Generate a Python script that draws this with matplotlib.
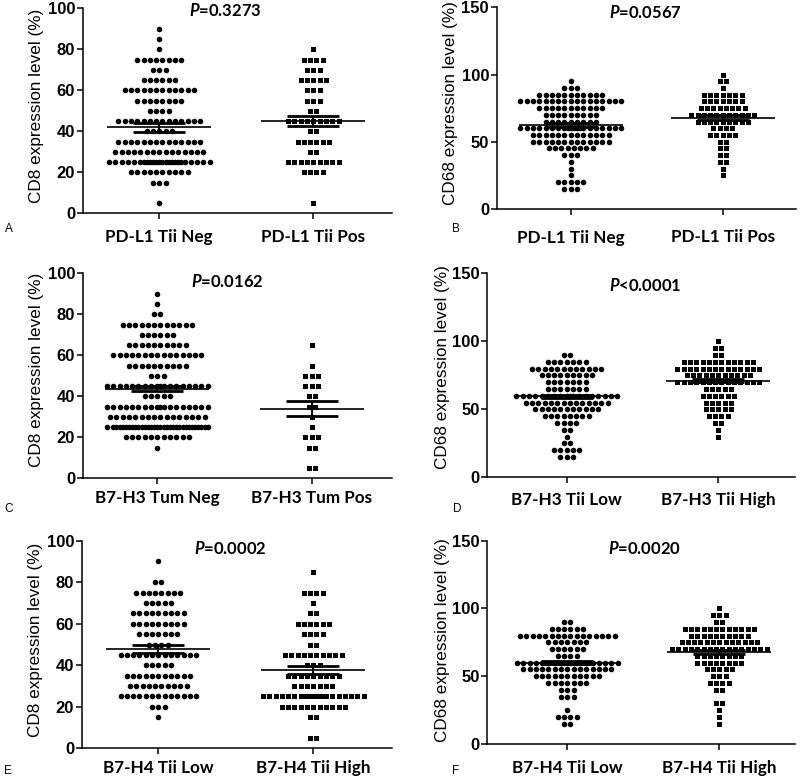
import matplotlib
matplotlib.use('Agg')
import matplotlib.pyplot as plt
import numpy as np

plt.rcParams['mathtext.fontset'] = 'custom'
plt.rcParams['mathtext.it'] = 'Lato:italic:bold'
plt.rcParams['mathtext.rm'] = 'Lato:bold'

# ---------------- data (value levels and number of cases at each level) -------------
A_neg_vals = [90, 85, 80, 75, 70, 65, 60, 55, 50, 45, 40, 35, 30, 25, 20, 15, 5]
A_neg_cnts = [1, 1, 1, 8, 3, 6, 12, 8, 4, 14, 5, 14, 15, 24, 10, 3, 1]
A_pos_vals = [80, 75, 70, 65, 60, 55, 50, 45, 40, 35, 30, 25, 20, 5]
A_pos_cnts = [1, 4, 3, 5, 3, 3, 2, 9, 2, 6, 2, 9, 4, 1]

B_neg_vals = [95, 90, 85, 80, 75, 70, 65, 60, 55, 50, 45, 40, 35, 30, 25, 20, 15]
B_neg_cnts = [1, 3, 11, 17, 11, 9, 9, 20, 13, 13, 8, 3, 1, 1, 1, 5, 3]
B_pos_vals = [100, 95, 90, 85, 80, 75, 70, 65, 60, 55, 50, 45, 40, 35, 30, 25]
B_pos_cnts = [1, 2, 1, 7, 7, 8, 11, 9, 4, 5, 2, 2, 2, 2, 1, 1]

C_neg_vals = [90, 85, 80, 75, 70, 65, 60, 55, 50, 45, 40, 35, 30, 25, 20, 15]
C_neg_cnts = [1, 1, 2, 12, 6, 10, 15, 10, 3, 18, 5, 18, 16, 32, 11, 1]
C_pos_vals = [65, 55, 50, 45, 40, 35, 30, 25, 20, 15, 5]
C_pos_cnts = [1, 1, 3, 3, 2, 2, 1, 1, 3, 2, 2]

D_low_vals = [90, 85, 80, 75, 70, 65, 60, 55, 50, 45, 40, 35, 30, 25, 20, 15]
D_low_cnts = [2, 7, 12, 9, 7, 7, 18, 14, 11, 8, 4, 2, 1, 2, 5, 3]
D_high_vals = [100, 95, 90, 85, 80, 75, 70, 65, 60, 55, 50, 45, 40, 35, 30]
D_high_cnts = [1, 2, 2, 12, 14, 11, 14, 5, 6, 5, 5, 4, 2, 1, 1]

E_low_vals = [90, 80, 75, 70, 65, 60, 55, 50, 45, 40, 35, 30, 25, 20, 15]
E_low_cnts = [1, 2, 8, 5, 9, 9, 7, 4, 13, 5, 11, 10, 13, 3, 1]
E_high_vals = [85, 75, 70, 65, 60, 55, 50, 45, 40, 35, 30, 25, 20, 15, 5]
E_high_cnts = [1, 4, 1, 2, 6, 4, 2, 10, 3, 9, 7, 21, 11, 2, 2]

F_low_vals = [90, 85, 80, 75, 70, 65, 60, 55, 50, 45, 40, 35, 25, 20, 15]
F_low_cnts = [2, 6, 16, 7, 6, 4, 20, 15, 11, 7, 3, 3, 1, 4, 2]
F_high_vals = [100, 95, 90, 85, 80, 75, 70, 65, 60, 55, 50, 45, 40, 30, 25, 20, 15]
F_high_cnts = [1, 3, 2, 12, 10, 13, 16, 8, 8, 5, 3, 4, 2, 2, 1, 1, 1]

# mean and SEM per group
means = {'A': [42.0, 45.0], 'B': [62.5, 68.0], 'C': [43.8, 34.0],
         'D': [59.5, 71.0], 'E': [47.8, 37.7], 'F': [60.0, 68.0]}
sems = {'A': [2.2, 2.4], 'B': [1.3, 1.7], 'C': [1.3, 3.6],
        'D': [1.3, 1.2], 'E': [1.8, 1.8], 'F': [1.3, 1.3]}

categories = {'A': ['PD-L1 Tii Neg', 'PD-L1 Tii Pos'],
              'B': ['PD-L1 Tii Neg', 'PD-L1 Tii Pos'],
              'C': ['B7-H3 Tum Neg', 'B7-H3 Tum Pos'],
              'D': ['B7-H3 Tii Low', 'B7-H3 Tii High'],
              'E': ['B7-H4 Tii Low', 'B7-H4 Tii High'],
              'F': ['B7-H4 Tii Low', 'B7-H4 Tii High']}
pvalues = {'A': '=0.3273', 'B': '=0.0567', 'C': '=0.0162',
           'D': '<0.0001', 'E': '=0.0002', 'F': '=0.0020'}
ylabels = {'A': 'CD8 expression level (%)', 'B': 'CD68 expression level (%)',
           'C': 'CD8 expression level (%)', 'D': 'CD68 expression level (%)',
           'E': 'CD8 expression level (%)', 'F': 'CD68 expression level (%)'}
yticks = {'A': [0, 20, 40, 60, 80, 100], 'B': [0, 50, 100, 150],
          'C': [0, 20, 40, 60, 80, 100], 'D': [0, 50, 100, 150],
          'E': [0, 20, 40, 60, 80, 100], 'F': [0, 50, 100, 150]}

groups = {'A': [(A_neg_vals, A_neg_cnts), (A_pos_vals, A_pos_cnts)],
          'B': [(B_neg_vals, B_neg_cnts), (B_pos_vals, B_pos_cnts)],
          'C': [(C_neg_vals, C_neg_cnts), (C_pos_vals, C_pos_cnts)],
          'D': [(D_low_vals, D_low_cnts), (D_high_vals, D_high_cnts)],
          'E': [(E_low_vals, E_low_cnts), (E_high_vals, E_high_cnts)],
          'F': [(F_low_vals, F_low_cnts), (F_high_vals, F_high_cnts)]}

# ---------------- layout (pixel geometry) -------------
W, H = 800, 781
# axis_left, axis_right, cat0, cat1, y0_px, ytop_px
geom = {'A': (82.7, 392, 159.3, 313.3, 213.3, 8.3),
        'B': (496.7, 796, 570.7, 722.7, 209.0, 7.3),
        'C': (82.7, 392, 157.3, 311.7, 478.3, 273.3),
        'D': (487.3, 795, 566.7, 718.3, 477.3, 273.3),
        'E': (81.7, 392, 158.3, 313.3, 748.3, 540.7),
        'F': (487.3, 795, 567.3, 719.3, 744.0, 540.7)}
ptext_pos = {'A': (225, 10), 'B': (645, 13), 'C': (227, 281.7),
             'D': (645, 285), 'E': (230, 548), 'F': (645, 548)}
cat_y = {'A': 236.7, 'B': 237.5, 'C': 498, 'D': 500, 'E': 768, 'F': 768}
letter_pos = {'A': (8.5, 229), 'B': (456, 229), 'C': (8.5, 509),
              'D': (457, 509), 'E': (8, 771), 'F': (456, 771)}
ylab_pos = {'A': (37, 106), 'B': (450, 103), 'C': (37, 370),
            'D': (443, 367), 'E': (36, 640), 'F': (443, 640)}

DOT_PX = 6.3
MAXROW = 17


def row_offsets(n):
    if n <= MAXROW:
        return np.arange(n) - (n - 1) / 2
    base = np.arange(MAXROW) - (MAXROW - 1) / 2
    k = n - MAXROW
    extra = np.arange(k) - (k - 1) / 2
    if (k % 2) == (MAXROW % 2):
        extra = extra + 0.5
    return np.concatenate([base, extra])


fig = plt.figure(figsize=(8, 7.81), dpi=100)

def fx(x):
    return x / W

def fy(y):
    return 1 - y / H

for key in ['A', 'B', 'C', 'D', 'E', 'F']:
    aL, aR, c0, c1, y0, yt = geom[key]
    unit = c1 - c0
    xlo = -(c0 - aL) / unit
    xhi = (aR - c0) / unit
    ymax = yticks[key][-1]
    ax = fig.add_axes([fx(aL), fy(y0), (aR - aL) / W, (y0 - yt) / H])
    ax.set_xlim(xlo, xhi)
    ax.set_ylim(0, ymax)
    for s in ['top', 'right']:
        ax.spines[s].set_visible(False)
    for s in ['left', 'bottom']:
        ax.spines[s].set_linewidth(1.1)
    sp = DOT_PX / unit
    for gi, (vals, cnts) in enumerate(groups[key]):
        xs, ys = [], []
        for v, n in zip(vals, cnts):
            offs = row_offsets(n)
            xs.extend(gi + offs * sp)
            ys.extend([v] * n)
        marker = 'o' if gi == 0 else 's'
        ms = 4.0 if gi == 0 else 3.6
        ax.plot(xs, ys, linestyle='none', marker=marker, ms=ms, color='black',
                markeredgewidth=0, clip_on=False, zorder=2)
        m = means[key][gi]
        se = sems[key][gi]
        hw = 52 / unit
        sw = 26 / unit
        ax.hlines(m, gi - hw, gi + hw, color='black', lw=1.2, zorder=3)
        ax.hlines([m - se, m + se], gi - sw, gi + sw, color='black', lw=2.0, zorder=3)
        ax.vlines(gi, m - se, m + se, color='black', lw=1.5, zorder=3)
    ax.set_xticks([0, 1])
    ax.set_xticklabels(['', ''])
    ax.set_yticks(yticks[key])
    ax.set_yticklabels([str(t) for t in yticks[key]], fontfamily='Liberation Sans',
                       fontweight='bold', fontsize=12)
    ax.tick_params(axis='y', length=4, width=1.1, pad=1.5, direction='out')
    ax.tick_params(axis='x', length=4.5, width=1.1, direction='out')

    for gi, c in enumerate([c0, c1]):
        fig.text(fx(c), fy(cat_y[key]), categories[key][gi], ha='center', va='center',
                 fontfamily='Lato', fontweight='bold', fontsize=12.3)
    px, py = ptext_pos[key]
    fig.text(fx(px), fy(py), r'$P$' + pvalues[key], ha='center', va='center',
             fontfamily='Lato', fontweight='bold', fontsize=12)
    lx, ly = letter_pos[key]
    fig.text(fx(lx), fy(ly), key, ha='center', va='center',
             fontfamily='Liberation Sans', fontsize=8.5)
    yx, yy = ylab_pos[key]
    fig.text(fx(yx), fy(yy), ylabels[key], ha='center', va='center', rotation=90,
             fontfamily='Liberation Sans', fontsize=12.3)

fig.savefig('out.png', dpi=100)
